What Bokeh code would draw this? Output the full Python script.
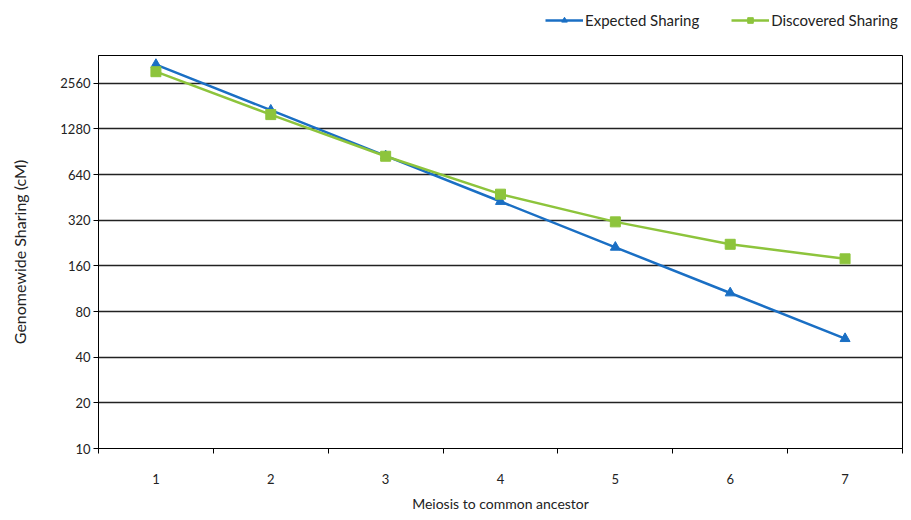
from bokeh.plotting import figure
from bokeh.models import FixedTicker, Legend, LegendItem
from bokeh.layouts import column
from bokeh.embed import file_html
from bokeh.resources import INLINE

meioses = [1, 2, 3, 4, 5, 6, 7]
expected = [3400, 1700, 850, 425, 212, 106, 53]
discovered = [3050, 1590, 845, 475, 312, 222, 178]
y_ticks = [10, 20, 40, 80, 160, 320, 640, 1280, 2560]
y_tick_labels = ["10", "20", "40", "80", "160", "320", "640", "1280", "2560"]
series_names = ["Expected Sharing", "Discovered Sharing"]

FONT = "Lato"
BLUE = "#1a6fc4"
GREEN = "#8dc43c"
TXT = "#222222"

# ---- legend strip (top); its frame is aligned with the main chart's frame ----
top = figure(width=903, height=50, x_range=(0, 1), y_range=(0, 1),
             output_backend="svg", toolbar_location=None, min_border=0)
top.axis.visible = False
top.grid.visible = False
top.outline_line_color = None
top.border_fill_color = "white"
# proxy renderers sit outside the visible range; they only feed the legend
tl1 = top.line([-5, -4], [-5, -4], line_color=BLUE, line_width=2.5)
ts1 = top.scatter([-5], [-5], marker="triangle", size=9, fill_color=BLUE, line_color=BLUE)
tl2 = top.line([-5, -4], [-5, -4], line_color=GREEN, line_width=2.5)
ts2 = top.scatter([-5], [-5], marker="square", size=9, fill_color=GREEN, line_color=GREEN)
legend = Legend(items=[LegendItem(label=series_names[0], renderers=[tl1, ts1]),
                       LegendItem(label=series_names[1], renderers=[tl2, ts2])],
                orientation="horizontal", location=(447, 21),
                glyph_width=38, glyph_height=14, spacing=32, padding=0, margin=0,
                label_standoff=2, label_text_font=FONT, label_text_font_size="15px",
                label_text_color=TXT, border_line_color=None,
                background_fill_alpha=0)
top.add_layout(legend, "center")

# ---- main chart ----
p = figure(width=903, height=464, y_axis_type="log",
           x_range=(0.5, 7.5), y_range=(10, 3900),
           output_backend="svg", toolbar_location=None,
           min_border_left=98, min_border_right=1, min_border_top=5, min_border_bottom=65)

p.outline_line_color = "black"
p.outline_line_width = 1
p.background_fill_color = "white"
p.border_fill_color = "white"

p.xgrid.visible = False
p.ygrid.ticker = FixedTicker(ticks=y_ticks)
p.ygrid.grid_line_color = TXT
p.ygrid.grid_line_width = 1.5

p.yaxis.ticker = FixedTicker(ticks=y_ticks, minor_ticks=[])
p.yaxis.major_label_overrides = {t: l for t, l in zip(y_ticks, y_tick_labels)}
p.yaxis.major_tick_in = 0
p.yaxis.major_tick_out = 5
p.yaxis.major_tick_line_color = "black"
p.yaxis.axis_line_color = "black"
p.yaxis.major_label_standoff = 3
p.yaxis.major_label_text_font = FONT
p.yaxis.major_label_text_font_size = "13px"
p.yaxis.major_label_text_color = TXT
p.yaxis.axis_label = "Genomewide Sharing (cM)"
p.yaxis.axis_label_text_font = FONT
p.yaxis.axis_label_text_font_size = "16px"
p.yaxis.axis_label_text_font_style = "normal"
p.yaxis.axis_label_text_color = TXT
p.yaxis.axis_label_standoff = 28

p.xaxis.ticker = FixedTicker(ticks=meioses, minor_ticks=[0.5, 1.5, 2.5, 3.5, 4.5, 5.5, 6.5, 7.5])
p.xaxis.major_tick_line_color = None
p.xaxis.major_tick_in = 0
p.xaxis.major_tick_out = 0
p.xaxis.minor_tick_in = 0
p.xaxis.minor_tick_out = 5
p.xaxis.minor_tick_line_color = "black"
p.xaxis.axis_line_color = "black"
p.xaxis.major_label_standoff = 20
p.xaxis.major_label_text_font = FONT
p.xaxis.major_label_text_font_size = "13px"
p.xaxis.major_label_text_color = TXT
p.xaxis.axis_label = "Meiosis to common ancestor"
p.xaxis.axis_label_text_font = FONT
p.xaxis.axis_label_text_font_size = "14px"
p.xaxis.axis_label_text_font_style = "normal"
p.xaxis.axis_label_text_color = TXT
p.xaxis.axis_label_standoff = 8

p.line(meioses, expected, line_color=BLUE, line_width=2.5)
p.scatter(meioses, expected, marker="triangle", size=10, fill_color=BLUE, line_color=BLUE)
p.line(meioses, discovered, line_color=GREEN, line_width=2.5)
p.scatter(meioses, discovered, marker="square", size=10, fill_color=GREEN, line_color=GREEN)

layout = column(top, p, spacing=0)
open("out.html", "w").write(file_html(layout, INLINE))
